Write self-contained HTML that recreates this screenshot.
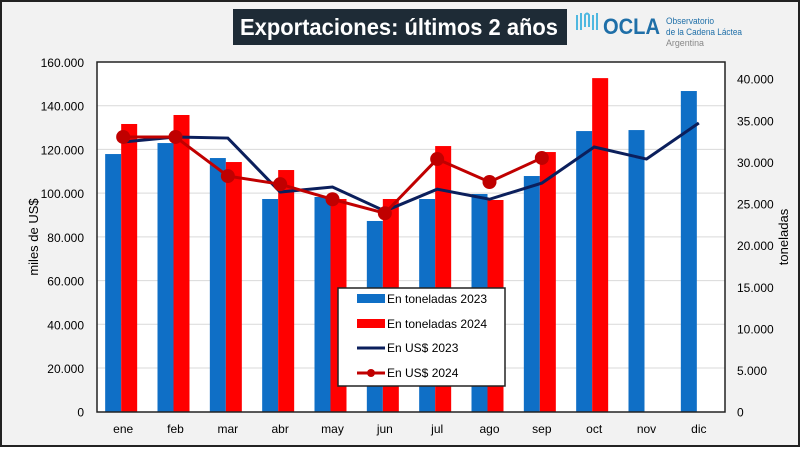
<!DOCTYPE html>
<html><head><meta charset="utf-8"><style>
body{margin:0;width:800px;height:447px;overflow:hidden;background:#fff;font-family:"Liberation Sans",sans-serif}
</style></head><body>
<svg width="800" height="447" xmlns="http://www.w3.org/2000/svg" id="svg">
<rect x="1" y="1" width="798" height="445" fill="#f2f2f2" stroke="#222" stroke-width="2"/>
<rect x="233" y="9" width="334" height="36" fill="#1e2b36"/>
<text x="240" y="35" textLength="318" lengthAdjust="spacingAndGlyphs" fill="#fff" font-size="23" font-weight="bold">Exportaciones: últimos 2 años</text>
<g>
<path d="M577 30 V15 M581 30 V13 M585 27 V15 Q587 12 589 15 V27 M593 30 V15 M597 30 V13" stroke="#4fb8e0" stroke-width="2" fill="none"/>
<text x="603" y="34" textLength="57" lengthAdjust="spacingAndGlyphs" fill="#1f6fa8" font-size="22" font-weight="bold">OCLA</text>
<text x="666" y="24" textLength="48" lengthAdjust="spacingAndGlyphs" fill="#1f6fa8" font-size="9">Observatorio</text>
<text x="666" y="35" textLength="76" lengthAdjust="spacingAndGlyphs" fill="#1f6fa8" font-size="9">de la Cadena Láctea</text>
<text x="666" y="46" textLength="38" lengthAdjust="spacingAndGlyphs" fill="#888" font-size="9">Argentina</text>
</g>
<rect x="97" y="62" width="628" height="350" fill="#fff"/>
<g id="grid"></g><g id="bars"></g><g id="lines"></g><g id="axes"></g>
<rect x="97" y="62" width="628" height="350" fill="none" stroke="#222" stroke-width="1.5"/>
<text transform="translate(38,237) rotate(-90)" text-anchor="middle" font-size="13">miles de US$</text>
<text transform="translate(788,237) rotate(-90)" text-anchor="middle" font-size="13">toneladas</text>
<g>
<rect x="338" y="288" width="167" height="98" fill="#fff" stroke="#222" stroke-width="1.5"/>
<rect x="357" y="294" width="28" height="9" fill="#0f6fc6"/>
<text x="387" y="303" font-size="12">En toneladas 2023</text>
<rect x="357" y="319" width="28" height="9" fill="#ff0000"/>
<text x="387" y="328" font-size="12">En toneladas 2024</text>
<line x1="357" y1="348" x2="385" y2="348" stroke="#0b1f5c" stroke-width="3"/>
<text x="387" y="352" font-size="12">En US$ 2023</text>
<line x1="357" y1="373" x2="385" y2="373" stroke="#c00000" stroke-width="3"/>
<circle cx="371" cy="373" r="4" fill="#c00000"/>
<text x="387" y="377" font-size="12">En US$ 2024</text>
</g>
</svg>
<script>
const months=["ene","feb","mar","abr","may","jun","jul","ago","sep","oct","nov","dic"];
const tons2023=[30950,32270,30470,25550,25790,22910,25550,26150,28310,33710,33830,38520];
const tons2024=[34560,35640,29990,29030,25550,25550,31910,25430,31190,40070];
const usd2023=[123400,125700,125200,100500,102800,91800,101800,97200,104600,121100,115600,132100];
const usd2024=[125700,125700,107800,104100,97200,90800,115600,105100,116100];
const leftTicks=[0,20000,40000,60000,80000,100000,120000,140000,160000];
const rightTicks=[0,5000,10000,15000,20000,25000,30000,35000,40000];
const NS="http://www.w3.org/2000/svg";
const X0=97,W=628,Y0=411.7;
const yL=v=>Y0-v/160000*349.7;
const yR=v=>Y0-v/40000*333;
const cw=W/months.length;
const xc=i=>X0+cw*(i+0.5);
const fmt=v=>v===0?"0":v.toLocaleString("de-DE");
function mk(tag,attrs,parent){const e=document.createElementNS(NS,tag);for(const k in attrs)e.setAttribute(k,attrs[k]);document.getElementById(parent).appendChild(e);return e;}
leftTicks.forEach(t=>{
 if(t>0){const g=mk("line",{x1:X0,x2:X0+W,y1:yL(t),y2:yL(t),stroke:"#d9d9d9","stroke-width":1},"grid");
 
 }
 const l=mk("text",{x:84,y:yL(t)+5,"text-anchor":"end","font-size":12},"axes");l.textContent=fmt(t);
 
 
});
rightTicks.forEach(t=>{
 const l=mk("text",{x:737,y:yR(t)+5,"font-size":12},"axes");l.textContent=fmt(t);
 
 
});
months.forEach((m,i)=>{
 const l=mk("text",{x:xc(i),y:433,"text-anchor":"middle","font-size":12},"axes");l.textContent=m;
 
 
});
tons2023.forEach((v,i)=>{
 const b=mk("rect",{x:xc(i)-18,y:yR(v),width:16,height:Y0-yR(v),fill:"#0f6fc6"},"bars");
 
 
});
tons2024.forEach((v,i)=>{
 const b=mk("rect",{x:xc(i)-2,y:yR(v),width:16,height:Y0-yR(v),fill:"#ff0000"},"bars");
 
 
});
const p1=mk("polyline",{points:usd2023.map((v,i)=>xc(i)+","+yL(v)).join(" "),fill:"none",stroke:"#0b1f5c","stroke-width":3},"lines");


const p2=mk("polyline",{points:usd2024.map((v,i)=>xc(i)+","+yL(v)).join(" "),fill:"none",stroke:"#c00000","stroke-width":3},"lines");


usd2024.forEach((v,i)=>{
 const c=mk("circle",{cx:xc(i),cy:yL(v),r:7,fill:"#c00000"},"lines");
 
 
});
</script>
</body></html>
